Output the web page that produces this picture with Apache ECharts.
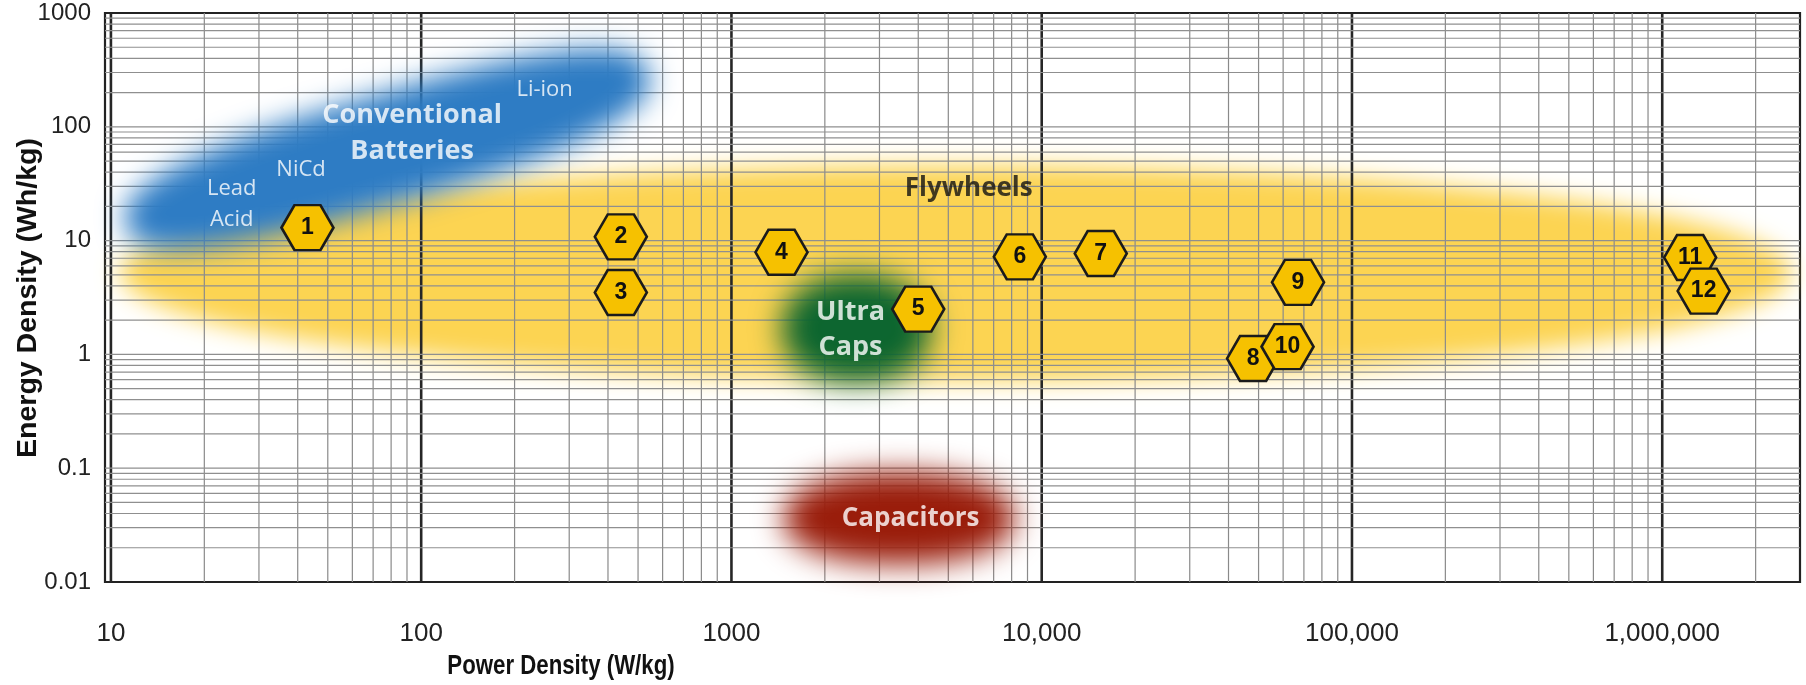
<!DOCTYPE html>
<html>
<head>
<meta charset="utf-8">
<script src="https://cdn.jsdelivr.net/npm/echarts@6/dist/echarts.min.js"></script>
<style>
html,body{margin:0;padding:0;background:#fff;}
#c{width:1806px;height:685px;}
</style>
</head>
<body>
<div id="c"></div>
<script>
// ---------------- data ----------------
const xTickValues = [10, 100, 1000, 10000, 100000, 1000000];
const xTickLabels = ['10', '100', '1000', '10,000', '100,000', '1,000,000'];
const yTickValues = [0.01, 0.1, 1, 10, 100, 1000];
const yTickLabels = ['0.01', '0.1', '1', '10', '100', '1000'];

// numbered flywheel devices (power density W/kg, energy density Wh/kg)
const deviceIds    = ['1', '2', '3', '4', '5', '6', '7', '8', '9', '10', '11', '12'];
const devicePower  = [43, 440, 440, 1450, 4000, 8500, 15500, 48000, 67000, 62000, 1230000, 1360000];
const deviceEnergy = [13, 10.8, 3.5, 7.9, 2.5, 7.2, 7.7, 0.92, 4.3, 1.17, 7.1, 3.6];

// technology regions (ranges)
const regionNames     = ['Flywheels', 'Ultra Caps', 'Capacitors'];
const regionPowerMin  = [10.7, 1450, 1470];
const regionPowerMax  = [2600000, 4400, 8180];
const regionEnergyMin = [0.59, 0.57, 0.0144];
const regionEnergyMax = [46, 5.0, 0.092];

// conventional batteries band: low end -> high end
const batteryPowerEnds  = [11.2, 540];
const batteryEnergyEnds = [13.6, 300];
const batteryEnergyHalfSpread = 0.5; // decades

// text annotations
const noteTexts  = ['Conventional\nBatteries', 'Li-ion', 'NiCd', 'Lead\nAcid', 'Flywheels', 'Ultra\nCaps', 'Capacitors'];
const notePower  = [93.5, 250, 41, 24.5, 5820, 2420, 3780];
const noteEnergy = [87, 211, 42, 21, 28.6, 1.63, 0.0364];

// axis extent
const X_MIN = 9.57, X_MAX = 2780000;
const Y_MIN = 0.01, Y_MAX = 1000;

// ---------------- styles ----------------
const regionColors = ['#fcd452', '#0d6630', '#9a1d0b'];
const regionBlur   = [24, 30, 30];
const regionPower2 = [2, 2.2, 2.2];
const batteryColor = '#2e7cc4';
const OFF = 4000;

function isDecade(v) {
  const k = Math.log10(v);
  return Math.abs(k - Math.round(k)) < 1e-6;
}
function labelFor(values, labels) {
  return function (v) {
    for (let i = 0; i < values.length; i++) {
      if (Math.abs(Math.log10(v) - Math.log10(values[i])) < 1e-6) return labels[i];
    }
    return '';
  };
}

// grid lines (log minor ticks 2..9 in each decade)
const vLines = [];
for (let n = 1; n <= 6; n++) {
  for (let k = 1; k <= 9; k++) {
    const v = k * Math.pow(10, n);
    if (v > X_MIN * 1.01 && v < X_MAX) vLines.push([v, Y_MIN]);
  }
}
const hLines = [];
for (let n = -2; n <= 2; n++) {
  for (let k = 1; k <= 9; k++) {
    const v = k * Math.pow(10, n);
    if (v > Y_MIN * 1.01 && v < Y_MAX) hLines.push([X_MIN, v]);
  }
}

// (super)ellipse outline, shifted by OFF so only its blurred shadow shows
function ellipsePoints(cx, cy, rx, ry, ang, p) {
  const pts = [];
  const c = Math.cos(ang), s = Math.sin(ang);
  const e = 2 / p;
  for (let i = 0; i < 120; i++) {
    const t = i / 120 * Math.PI * 2;
    const ct = Math.cos(t), st = Math.sin(t);
    const ex = rx * Math.sign(ct) * Math.pow(Math.abs(ct), e);
    const ey = ry * Math.sign(st) * Math.pow(Math.abs(st), e);
    pts.push([cx + ex * c - ey * s - OFF, cy + ex * s + ey * c]);
  }
  return pts;
}

const regionData = regionNames.map((n, i) => ({
  name: n,
  value: [regionPowerMin[i], regionPowerMax[i], regionEnergyMin[i], regionEnergyMax[i]]
}));

function regionRender(params, api) {
  const i = params.dataIndex;
  const a = api.coord([api.value(0), api.value(2)]);
  const b = api.coord([api.value(1), api.value(3)]);
  const cx = (a[0] + b[0]) / 2, cy = (a[1] + b[1]) / 2;
  const rx = Math.abs(b[0] - a[0]) / 2, ry = Math.abs(a[1] - b[1]) / 2;
  return {
    type: 'polygon',
    shape: { points: ellipsePoints(cx, cy, rx, ry, 0, regionPower2[i]) },
    style: { fill: regionColors[i], shadowColor: regionColors[i], shadowBlur: regionBlur[i], shadowOffsetX: OFF }
  };
}

function batteryRender(params, api) {
  const p1 = api.coord([api.value(0), api.value(2)]);
  const p2 = api.coord([api.value(1), api.value(3)]);
  const cx = (p1[0] + p2[0]) / 2, cy = (p1[1] + p2[1]) / 2;
  const dx = p2[0] - p1[0], dy = p2[1] - p1[1];
  const ang = Math.atan2(dy, dx);
  const rx = Math.sqrt(dx * dx + dy * dy) / 2;
  const midE = Math.sqrt(api.value(2) * api.value(3));
  const midP = Math.sqrt(api.value(0) * api.value(1));
  const vUp = api.coord([midP, midE * Math.pow(10, batteryEnergyHalfSpread)]);
  const vMid = api.coord([midP, midE]);
  const ry = Math.abs(vMid[1] - vUp[1]) * Math.cos(ang);
  return {
    type: 'polygon',
    shape: { points: ellipsePoints(cx, cy, rx, ry, ang, 2.6) },
    style: { fill: batteryColor, shadowColor: batteryColor, shadowBlur: 28, shadowOffsetX: OFF }
  };
}

function vLineRender(params, api) {
  const v = api.value(0);
  const t = api.coord([v, Y_MAX]);
  const b = api.coord([v, Y_MIN]);
  const major = isDecade(v);
  return {
    type: 'line',
    shape: { x1: t[0], y1: t[1], x2: b[0], y2: b[1] },
    style: { stroke: major ? '#262626' : '#8a8a8a', lineWidth: major ? 2.6 : 1.2 }
  };
}
function hLineRender(params, api) {
  const v = api.value(1);
  const l = api.coord([X_MIN, v]);
  const r = api.coord([X_MAX, v]);
  return {
    type: 'line',
    shape: { x1: l[0], y1: l[1], x2: r[0], y2: r[1] },
    style: { stroke: '#8f8f8f', lineWidth: 1.2 }
  };
}

const noteStyles = [
  { color: '#fff', fontSize: 27, fontWeight: 'bold', lineHeight: 36 },
  { color: '#fff', fontSize: 22, fontWeight: 'normal', lineHeight: 26 },
  { color: '#fff', fontSize: 22, fontWeight: 'normal', lineHeight: 26 },
  { color: '#fff', fontSize: 22, fontWeight: 'normal', lineHeight: 31 },
  { color: '#111', fontSize: 26, fontWeight: 'bold', lineHeight: 30 },
  { color: '#fff', fontSize: 27, fontWeight: 'bold', lineHeight: 35 },
  { color: '#fff', fontSize: 26, fontWeight: 'bold', lineHeight: 30 }
];

const chart = echarts.init(document.getElementById('c'), null, { renderer: 'canvas', devicePixelRatio: 1 });
chart.setOption({
  animation: false,
  backgroundColor: '#ffffff',
  grid: { left: 105, right: 6, top: 13, bottom: 103, show: true, borderColor: '#222', borderWidth: 2.2, backgroundColor: 'transparent' },
  xAxis: {
    type: 'log', logBase: 10, min: X_MIN, max: X_MAX,
    axisLine: { show: false }, axisTick: { show: false }, splitLine: { show: false },
    axisLabel: { formatter: labelFor(xTickValues, xTickLabels), color: '#222', fontSize: 26, fontFamily: 'Liberation Sans', margin: 39, showMinLabel: true, showMaxLabel: true }
  },
  yAxis: {
    type: 'log', logBase: 10, min: Y_MIN, max: Y_MAX,
    axisLine: { show: false }, axisTick: { show: false }, splitLine: { show: false },
    axisLabel: { formatter: labelFor(yTickValues, yTickLabels), color: '#222', fontSize: 24, fontFamily: 'Liberation Sans', margin: 14 }
  },
  graphic: [
    { type: 'text', x: 28, y: 298, rotation: Math.PI / 2,
      style: { text: 'Energy Density (Wh/kg)', fontSize: 28.5, fontWeight: 'bold', fontFamily: 'Liberation Sans', fill: '#111', align: 'center', verticalAlign: 'middle' } },
    { type: 'text', x: 561, y: 666, scaleX: 0.78,
      style: { text: 'Power Density (W/kg)', fontSize: 28.5, fontWeight: 'bold', fontFamily: 'Liberation Sans', fill: '#111', align: 'center', verticalAlign: 'middle' } }
  ],
  series: [
    { type: 'custom', name: 'flywheel-region', silent: true, z: 1, renderItem: regionRender,
      encode: { x: [0, 1], y: [2, 3] }, data: [regionData[0]] },
    { type: 'custom', name: 'vgrid', silent: true, z: 2, renderItem: vLineRender, encode: { x: 0, y: 1 }, data: vLines },
    { type: 'custom', name: 'hgrid', silent: true, z: 2, renderItem: hLineRender, encode: { x: 0, y: 1 }, data: hLines },
    { type: 'custom', name: 'batteries', silent: true, z: 3, renderItem: batteryRender,
      encode: { x: [0, 1], y: [2, 3] },
      data: [[batteryPowerEnds[0], batteryPowerEnds[1], batteryEnergyEnds[0], batteryEnergyEnds[1]]] },
    { type: 'custom', name: 'cap-regions', silent: true, z: 3,
      renderItem: function (params, api) { return regionRender({ dataIndex: params.dataIndex + 1 }, api); },
      encode: { x: [0, 1], y: [2, 3] }, data: regionData.slice(1) },
    { type: 'scatter', name: 'devices', z: 5, silent: true,
      symbol: 'path://M0,43.3 L25,0 L75,0 L100,43.3 L75,86.6 L25,86.6 Z',
      symbolSize: [52, 45],
      itemStyle: { color: '#f6c100', borderColor: '#1b1b1b', borderWidth: 2.5, opacity: 1 },
      label: { show: true, position: 'inside', formatter: '{b}', color: '#111', fontSize: 23, fontWeight: 'bold', fontFamily: 'Liberation Sans' },
      data: deviceIds.map((id, i) => ({ name: id, value: [devicePower[i], deviceEnergy[i]] }))
    },
    { type: 'scatter', name: 'notes', z: 6, silent: true, symbolSize: 0,
      data: noteTexts.map((t, i) => ({
        name: t, value: [notePower[i], noteEnergy[i]],
        label: Object.assign({ show: true, position: 'inside', formatter: '{b}', fontFamily: 'Open Sans', align: 'center', verticalAlign: 'middle' }, noteStyles[i])
      }))
    }
  ]
});
</script>
</body>
</html>
